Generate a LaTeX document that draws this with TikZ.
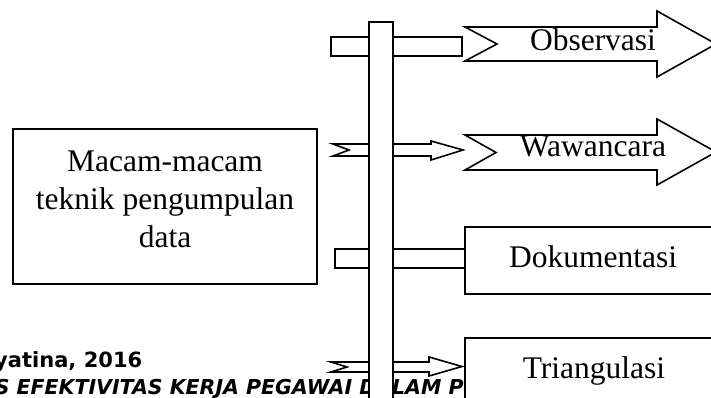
\documentclass[tikz,border=0pt]{standalone}
\usepackage{fontspec}
\setmainfont{Liberation Serif}
\newfontfamily\footfont{DejaVu Sans}
\begin{document}
\begin{tikzpicture}[x=1pt,y=-1pt,line width=1.6pt,line join=miter,
  shp/.style={draw=black,fill=white},
  lbl/.style={font=\fontsize{31.5}{38}\selectfont,inner sep=0pt,anchor=base},
  foota/.style={font=\footfont\bfseries\fontsize{21}{26}\selectfont,inner sep=0pt},
  footb/.style={font=\footfont\bfseries\itshape\fontsize{20.5}{26}\selectfont,inner sep=0pt}]
\clip (0,0) rectangle (711,398);
\fill[white] (0,0) rectangle (711,398);
% footer text (behind the shapes)
\node[foota,anchor=base east] (f1) at (143,367) {yatina, 2016};
\node[footb,anchor=base west] (f2) at (-6,394) {S EFEKTIVITAS KERJA PEGAWAI DALAM PE};
% left box
\draw[shp] (13,129) rectangle (317,284);
\node[lbl,anchor=north,align=center] (src) at (165,150) {Macam-macam\\teknik pengumpulan\\data};
% pieces crossing the bar
\draw[shp] (331,37) rectangle (462,56);
\draw[shp] (333,144) -- (431,144) -- (431,141) -- (463,150) -- (431,160) -- (431,156) -- (333,156) -- (349,150) -- cycle;
\draw[shp] (335,249) rectangle (465,268);
\draw[shp] (331,362) -- (429,362) -- (429,357) -- (462,366.5) -- (429,376) -- (429,372) -- (331,372) -- (347,367) -- cycle;
% vertical bar
\draw[shp] (369,22) rectangle (393,410);
% right side
\draw[shp] (465,27) -- (657,27) -- (657,11) -- (716,44) -- (657,77) -- (657,61) -- (465,61) -- (497,44) -- cycle;
\node[lbl] (obs) at (593,51) {Observasi};
\draw[shp] (465,135) -- (657,135) -- (657,119) -- (716,152) -- (657,185) -- (657,170) -- (465,170) -- (496,152.5) -- cycle;
\node[lbl] (waw) at (593,157) {Wawancara};
\draw[shp] (465,227) rectangle (725,294);
\node[lbl] (dok) at (593,267) {Dokumentasi};
\draw[shp] (465,338) rectangle (725,410);
\node[lbl] (tri) at (594,378) {Triangulasi};
\end{tikzpicture}
\end{document}
